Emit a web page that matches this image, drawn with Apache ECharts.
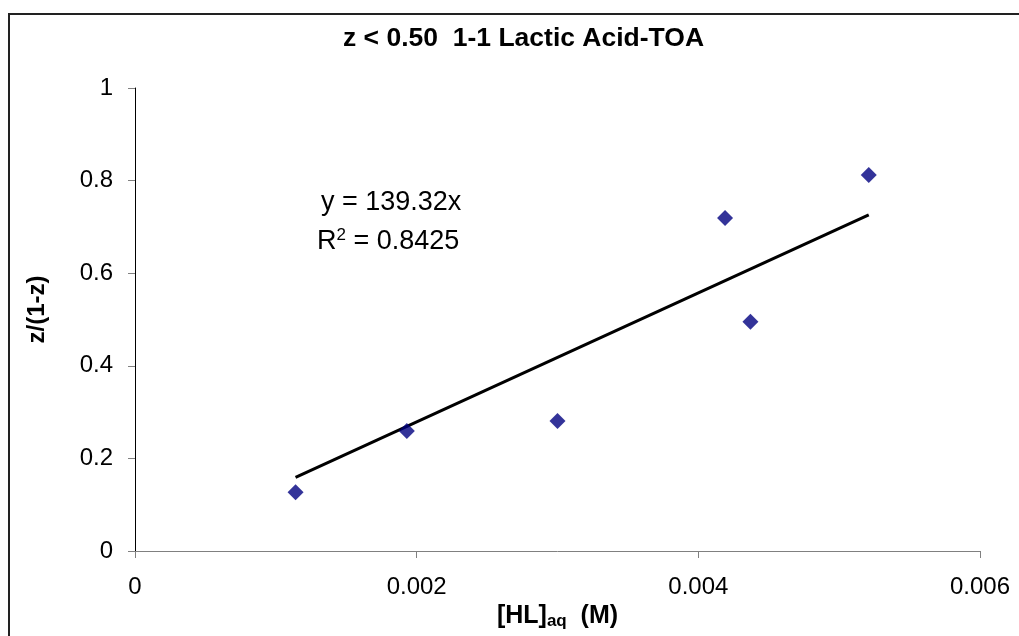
<!DOCTYPE html>
<html>
<head>
<meta charset="utf-8">
<script src="https://cdn.jsdelivr.net/npm/echarts@6/dist/echarts.min.js"></script>
<style>
  html, body { margin: 0; padding: 0; background: #fff; }
  #chart { width: 1019px; height: 636px; }
</style>
</head>
<body>
<div id="chart"></div>
<script>
// measured points: [HL]aq (M) vs z/(1-z)
const hlAq = [0.00114, 0.00193, 0.00300, 0.00419, 0.00437, 0.00521]
const zRatio = [0.127, 0.259, 0.281, 0.719, 0.495, 0.812]
// linear fit through origin
const slope = 139.32
const rSquared = 0.8425
const xTicks = [0, 0.002, 0.004, 0.006]
const yTicks = [0, 0.2, 0.4, 0.6, 0.8, 1]

const points = hlAq.map((x, i) => [x, zRatio[i]])
const xMin = Math.min(...hlAq)
const xMax = Math.max(...hlAq)
const fitLine = [[xMin, slope * xMin], [xMax, slope * xMax]]

const chart = echarts.init(document.getElementById('chart'))
const font = 'Liberation Sans, Arial, sans-serif'

const option = {
  backgroundColor: '#fff',
  animation: false,
  textStyle: { fontFamily: font },
  title: {
    text: 'z < 0.50  1-1 Lactic Acid-TOA',
    left: 338,
    top: 20,
    textStyle: { fontFamily: font, fontSize: 26.5, fontWeight: 'bold', color: '#000' }
  },
  grid: { left: 135, right: 39, top: 88, bottom: 85, containLabel: false, outerBoundsMode: 'none' },
  xAxis: {
    type: 'value',
    min: xTicks[0],
    max: xTicks[xTicks.length - 1],
    interval: xTicks[1] - xTicks[0],
    name: '{b|[HL]}{s|aq}{b|  (M)}',
    nameLocation: 'middle',
    nameGap: 51,
    nameTextStyle: {
      rich: {
        b: { fontFamily: font, fontSize: 25, fontWeight: 'bold', color: '#000' },
        s: { fontFamily: font, fontSize: 17, fontWeight: 'bold', color: '#000', verticalAlign: 'bottom', padding: [10, 0, 0, 0] }
      }
    },
    axisLine: { onZero: false, lineStyle: { color: '#808080', width: 1 } },
    axisTick: { show: true, length: 7, lineStyle: { color: '#808080' } },
    axisLabel: { margin: 24, fontSize: 24, color: '#000', fontFamily: font },
    splitLine: { show: false }
  },
  yAxis: {
    type: 'value',
    min: yTicks[0],
    max: yTicks[yTicks.length - 1],
    interval: yTicks[1] - yTicks[0],
    name: 'z/(1-z)',
    nameLocation: 'middle',
    nameGap: 86,
    nameRotate: 90,
    nameTextStyle: { fontFamily: font, fontSize: 24, fontWeight: 'bold', color: '#000', padding: [0, 0, 0, 20] },
    axisLine: { show: true, onZero: false, lineStyle: { color: '#000', width: 1 } },
    axisTick: { show: true, length: 7, lineStyle: { color: '#808080' } },
    axisLabel: { margin: 22, fontSize: 24, color: '#000', fontFamily: font },
    splitLine: { show: false }
  },
  series: [
    {
      type: 'line',
      data: fitLine,
      symbol: 'none',
      lineStyle: { color: '#000', width: 3 },
      z: 2
    },
    {
      type: 'scatter',
      data: points,
      symbol: 'diamond',
      symbolSize: 16,
      itemStyle: { color: '#000080' },
      z: 3
    }
  ],
  graphic: [
    {
      type: 'rect',
      shape: { x: 9, y: 14, width: 1100, height: 700 },
      style: { fill: 'none', stroke: '#222', lineWidth: 2 },
      silent: true
    },
    {
      type: 'text',
      left: 321,
      top: 189,
      style: {
        text: 'y = ' + slope + 'x',
        fontFamily: font, fontSize: 27, fill: '#000'
      }
    },
    {
      type: 'text',
      left: 317,
      top: 227,
      style: {
        text: '{n|R}{p|2}{n| = ' + rSquared + '}',
        rich: {
          n: { fontFamily: font, fontSize: 27, color: '#000' },
          p: { fontFamily: font, fontSize: 17, color: '#000', verticalAlign: 'top', padding: [0, 0, 12, 0] }
        }
      }
    }
  ]
}

chart.setOption(option)
</script>
</body>
</html>
